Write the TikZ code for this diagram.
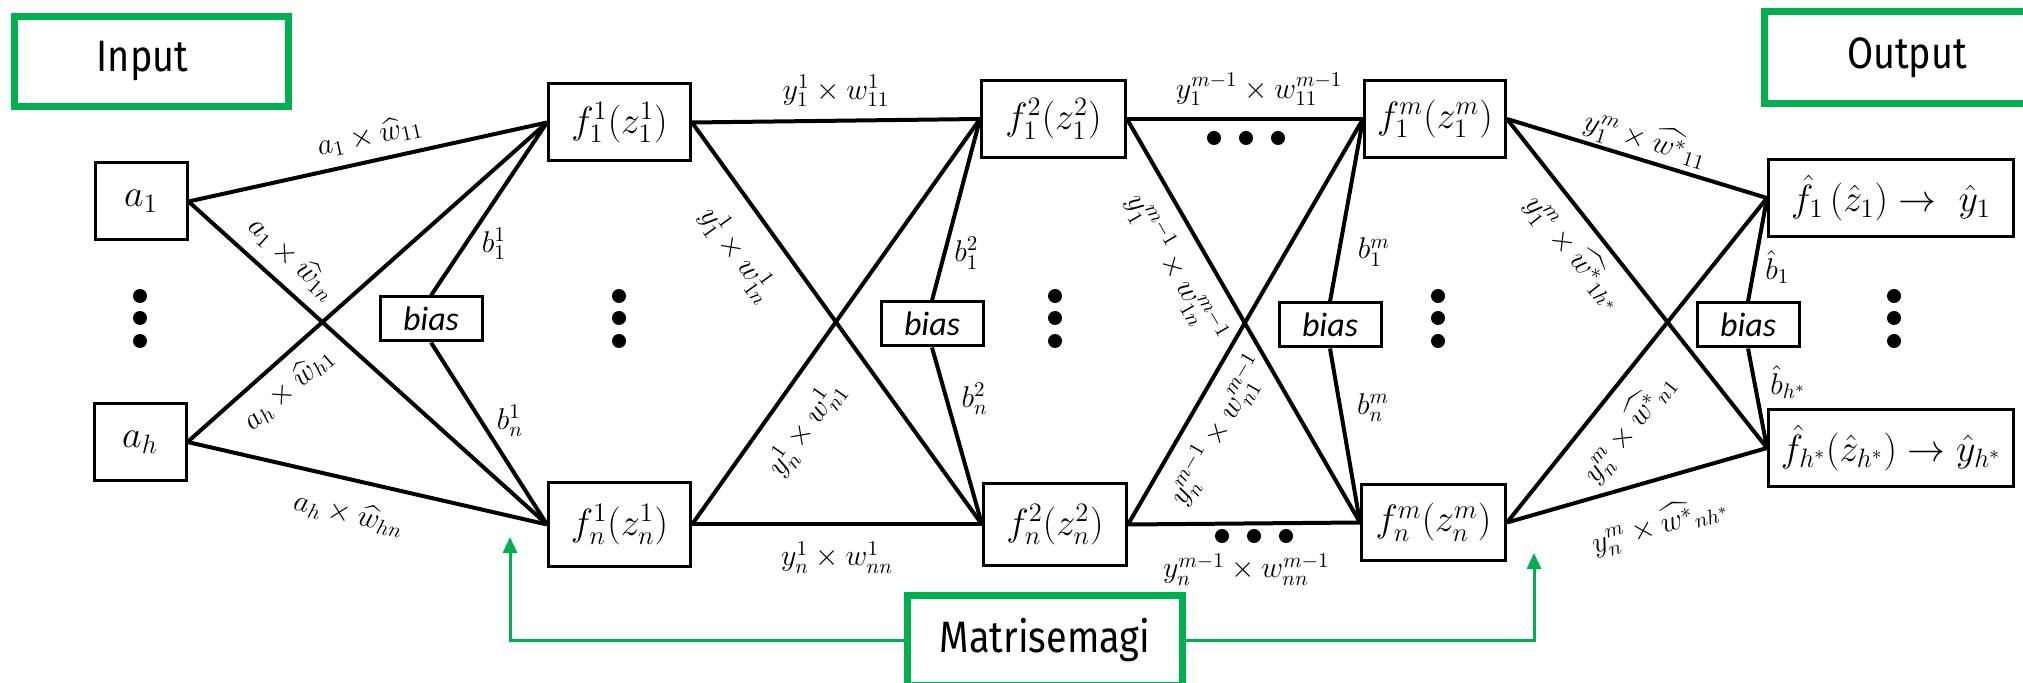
\RequirePackage{fix-cm}
\documentclass[tikz,border=0pt]{standalone}
\usepackage{amsmath}
\usepackage{fontspec}
\newfontfamily\labelfont{Fira Sans}[FakeStretch=0.86]
\newfontfamily\biasfont{Carlito}
\usetikzlibrary{arrows.meta}
\definecolor{xlgreen}{HTML}{00B050}
\begin{document}
\begin{tikzpicture}[x=0.5pt,y=-0.5pt,
  box/.style={draw=black, line width=1.5pt, inner sep=0pt, font=\fontsize{19}{22}\selectfont},
  biasbox/.style={draw=black, line width=1.5pt, inner sep=0pt, minimum width=51pt, minimum height=22pt, font=\biasfont\itshape\fontsize{17}{20}\selectfont},
  gbox/.style={draw=xlgreen, line width=3.5pt, inner sep=0pt, font=\labelfont\fontsize{22}{26}\selectfont},
  conn/.style={line width=2pt},
  lbl/.style={font=\fontsize{15}{18}\selectfont, inner sep=2pt},
  gline/.style={draw=xlgreen, line width=1.5pt, -{Triangle[width=7pt,length=8pt]}}
]
\fill[white] (0,0) rectangle (2023,683);
\useasboundingbox (0,0) rectangle (2023,683);

% nodes
\node[box, minimum width=46pt, minimum height=38.5pt] (a1) at (141,201.5) {$a_1$};
\node[box, minimum width=46pt, minimum height=38.5pt] (ah) at (140,442) {$a_h$};
\node[box, minimum width=71pt, minimum height=38.5pt] (f11) at (619.5,122.5) {$f_1^1(z_1^1)$};
\node[box, minimum width=71pt, minimum height=42pt] (fn1) at (619.5,524.5) {$f_n^1(z_n^1)$};
\node[box, minimum width=72pt, minimum height=38.5pt] (f12) at (1053.5,119) {$f_1^2(z_1^2)$};
\node[box, minimum width=71.5pt, minimum height=41pt] (fn2) at (1055,524.5) {$f_n^2(z_n^2)$};
\node[box, minimum width=70.5pt, minimum height=38.5pt] (f1m) at (1435,119) {$f_1^m(z_1^m)$};
\node[box, minimum width=72pt, minimum height=38pt] (fnm) at (1433.5,522.5) {$f_n^m(z_n^m)$};
\node[box, minimum width=122.5pt, minimum height=38.5pt] (o1) at (1891,198) {$\hat{f}_1\,(\hat{z}_1)\rightarrow\ \hat{y}_1$};
\node[box, minimum width=122.5pt, minimum height=38.5pt] (oh) at (1891,448) {$\hat{f}_{h^*}(\hat{z}_{h^*})\rightarrow\hat{y}_{h^*}$};

\node[biasbox] (b1) at (431,319) {bias};
\node[biasbox] (b2) at (932,324) {bias};
\node[biasbox] (b3) at (1330,325) {bias};
\node[biasbox] (b4) at (1748,325) {bias};

\node[gbox, minimum width=137pt, minimum height=45pt] (inp) at (151.5,61.5) {\hspace*{-9pt}Input};
\node[gbox, minimum width=142.5pt, minimum height=46pt] (outp) at (1907,57.5) {Output};
\node[gbox, minimum width=137.5pt, minimum height=45pt] (magi) at (1045,640) {\raisebox{2.5pt}{Matrisemagi}};

% layer 0 -> 1
\draw[conn] (a1.east) -- node[lbl, sloped, above=3pt, pos=0.52] {$a_1\times\widehat{w}_{11}$} (f11.west);
\draw[conn] (a1.east) -- node[lbl, sloped, above=4pt, pos=0.24] {$a_1\times\widehat{w}_{1n}$} (fn1.west);
\draw[conn] (ah.east) -- node[lbl, sloped, below=4pt, pos=0.23] {$a_h\times\widehat{w}_{h1}$} (f11.west);
\draw[conn] (ah.east) -- node[lbl, sloped, below=7.5pt, pos=0.47] {$a_h\times\widehat{w}_{hn}$} (fn1.west);
\draw[conn] (b1.north) -- node[lbl, right=5pt, pos=0.3] {$b_1^1$} (f11.west);
\draw[conn] (b1.south) -- node[lbl, right=5pt, pos=0.43] {$b_n^1$} (fn1.west);

% layer 1 -> 2
\draw[conn] (f11.east) -- node[lbl, above=4pt, pos=0.5] {$y_1^1\times w_{11}^1$} (f12.west);
\draw[conn] (f11.east) -- node[lbl, sloped, below=9pt, pos=0.27] {$y_1^1\times w_{1n}^1$} (fn2.west);
\draw[conn] (fn1.east) -- node[lbl, sloped, below=7.5pt, pos=0.29] {$y_n^1\times w_{n1}^1$} (f12.west);
\draw[conn] (fn1.east) -- node[lbl, below=5.5pt, pos=0.5] {$y_n^1\times w_{nn}^1$} (fn2.west);
\draw[conn] (b2.north) -- node[lbl, right=2pt, pos=0.26] {$b_1^2$} (f12.west);
\draw[conn] (b2.south) -- node[lbl, right=4.5pt, pos=0.29] {$b_n^2$} (fn2.west);

% layer 2 -> m
\draw[conn] (f12.east) -- node[lbl, sloped, below=5pt, pos=0.33] {$y_1^{m-1}\times w_{1n}^{m-1}$} (fnm.west);
\draw[conn] (f12.east) -- node[lbl, above=3.5pt, pos=0.56] {$y_1^{m-1}\times w_{11}^{m-1}$} (f1m.west);
\draw[conn] (fn2.east) -- node[lbl, sloped, below=4pt, pos=0.27] {$y_n^{m-1}\times w_{n1}^{m-1}$} (f1m.west);
\draw[conn] (fn2.east) -- node[lbl, below=12pt, pos=0.51] {$y_n^{m-1}\times w_{nn}^{m-1}$} (fnm.west);
\draw[conn] (b3.north) -- node[lbl, right=6.5pt, pos=0.27] {$b_1^m$} (f1m.west);
\draw[conn] (b3.south) -- node[lbl, right=5.5pt, pos=0.34] {$b_n^m$} (fnm.west);

% layer m -> output
\draw[conn] (f1m.east) -- node[lbl, sloped, above=-1pt, pos=0.51] {$y_1^m\times\widehat{w^*}{}_{11}$} (o1.west);
\draw[conn] (f1m.east) -- node[lbl, sloped, below=3pt, pos=0.35] {$y_1^m\times\widehat{w^*}{}_{1h^*}$} (oh.west);
\draw[conn] (fnm.east) -- node[lbl, sloped, below=6pt, pos=0.36] {$y_n^m\times\widehat{w^*}{}_{n1}$} (o1.west);
\draw[conn] (fnm.east) -- node[lbl, sloped, below=10pt, pos=0.54] {$y_n^m\times\widehat{w^*}{}_{nh^*}$} (oh.west);
\draw[conn] (b4.north) -- node[lbl, right=2.5pt, pos=0.33] {$\hat{b}_1$} (o1.west);
\draw[conn] (b4.south) -- node[lbl, right=5pt, pos=0.34] {$\hat{b}_{h^*}$} (oh.west);

% dots
\foreach \x in {140,619,1055,1438,1894}
  \foreach \y in {296,318,341}
    \fill (\x,\y) circle[radius=3.5pt];
\foreach \x in {1214,1246,1278} \fill (\x,138) circle[radius=3.5pt];
\foreach \x in {1222,1254,1286} \fill (\x,536) circle[radius=3.5pt];

% green connectors
\coordinate (gl) at (510,537);
\coordinate (gr) at (1534,553);
\draw[gline] (magi.west) -| (gl);
\draw[gline] (magi.east) -| (gr);
\end{tikzpicture}
\end{document}
